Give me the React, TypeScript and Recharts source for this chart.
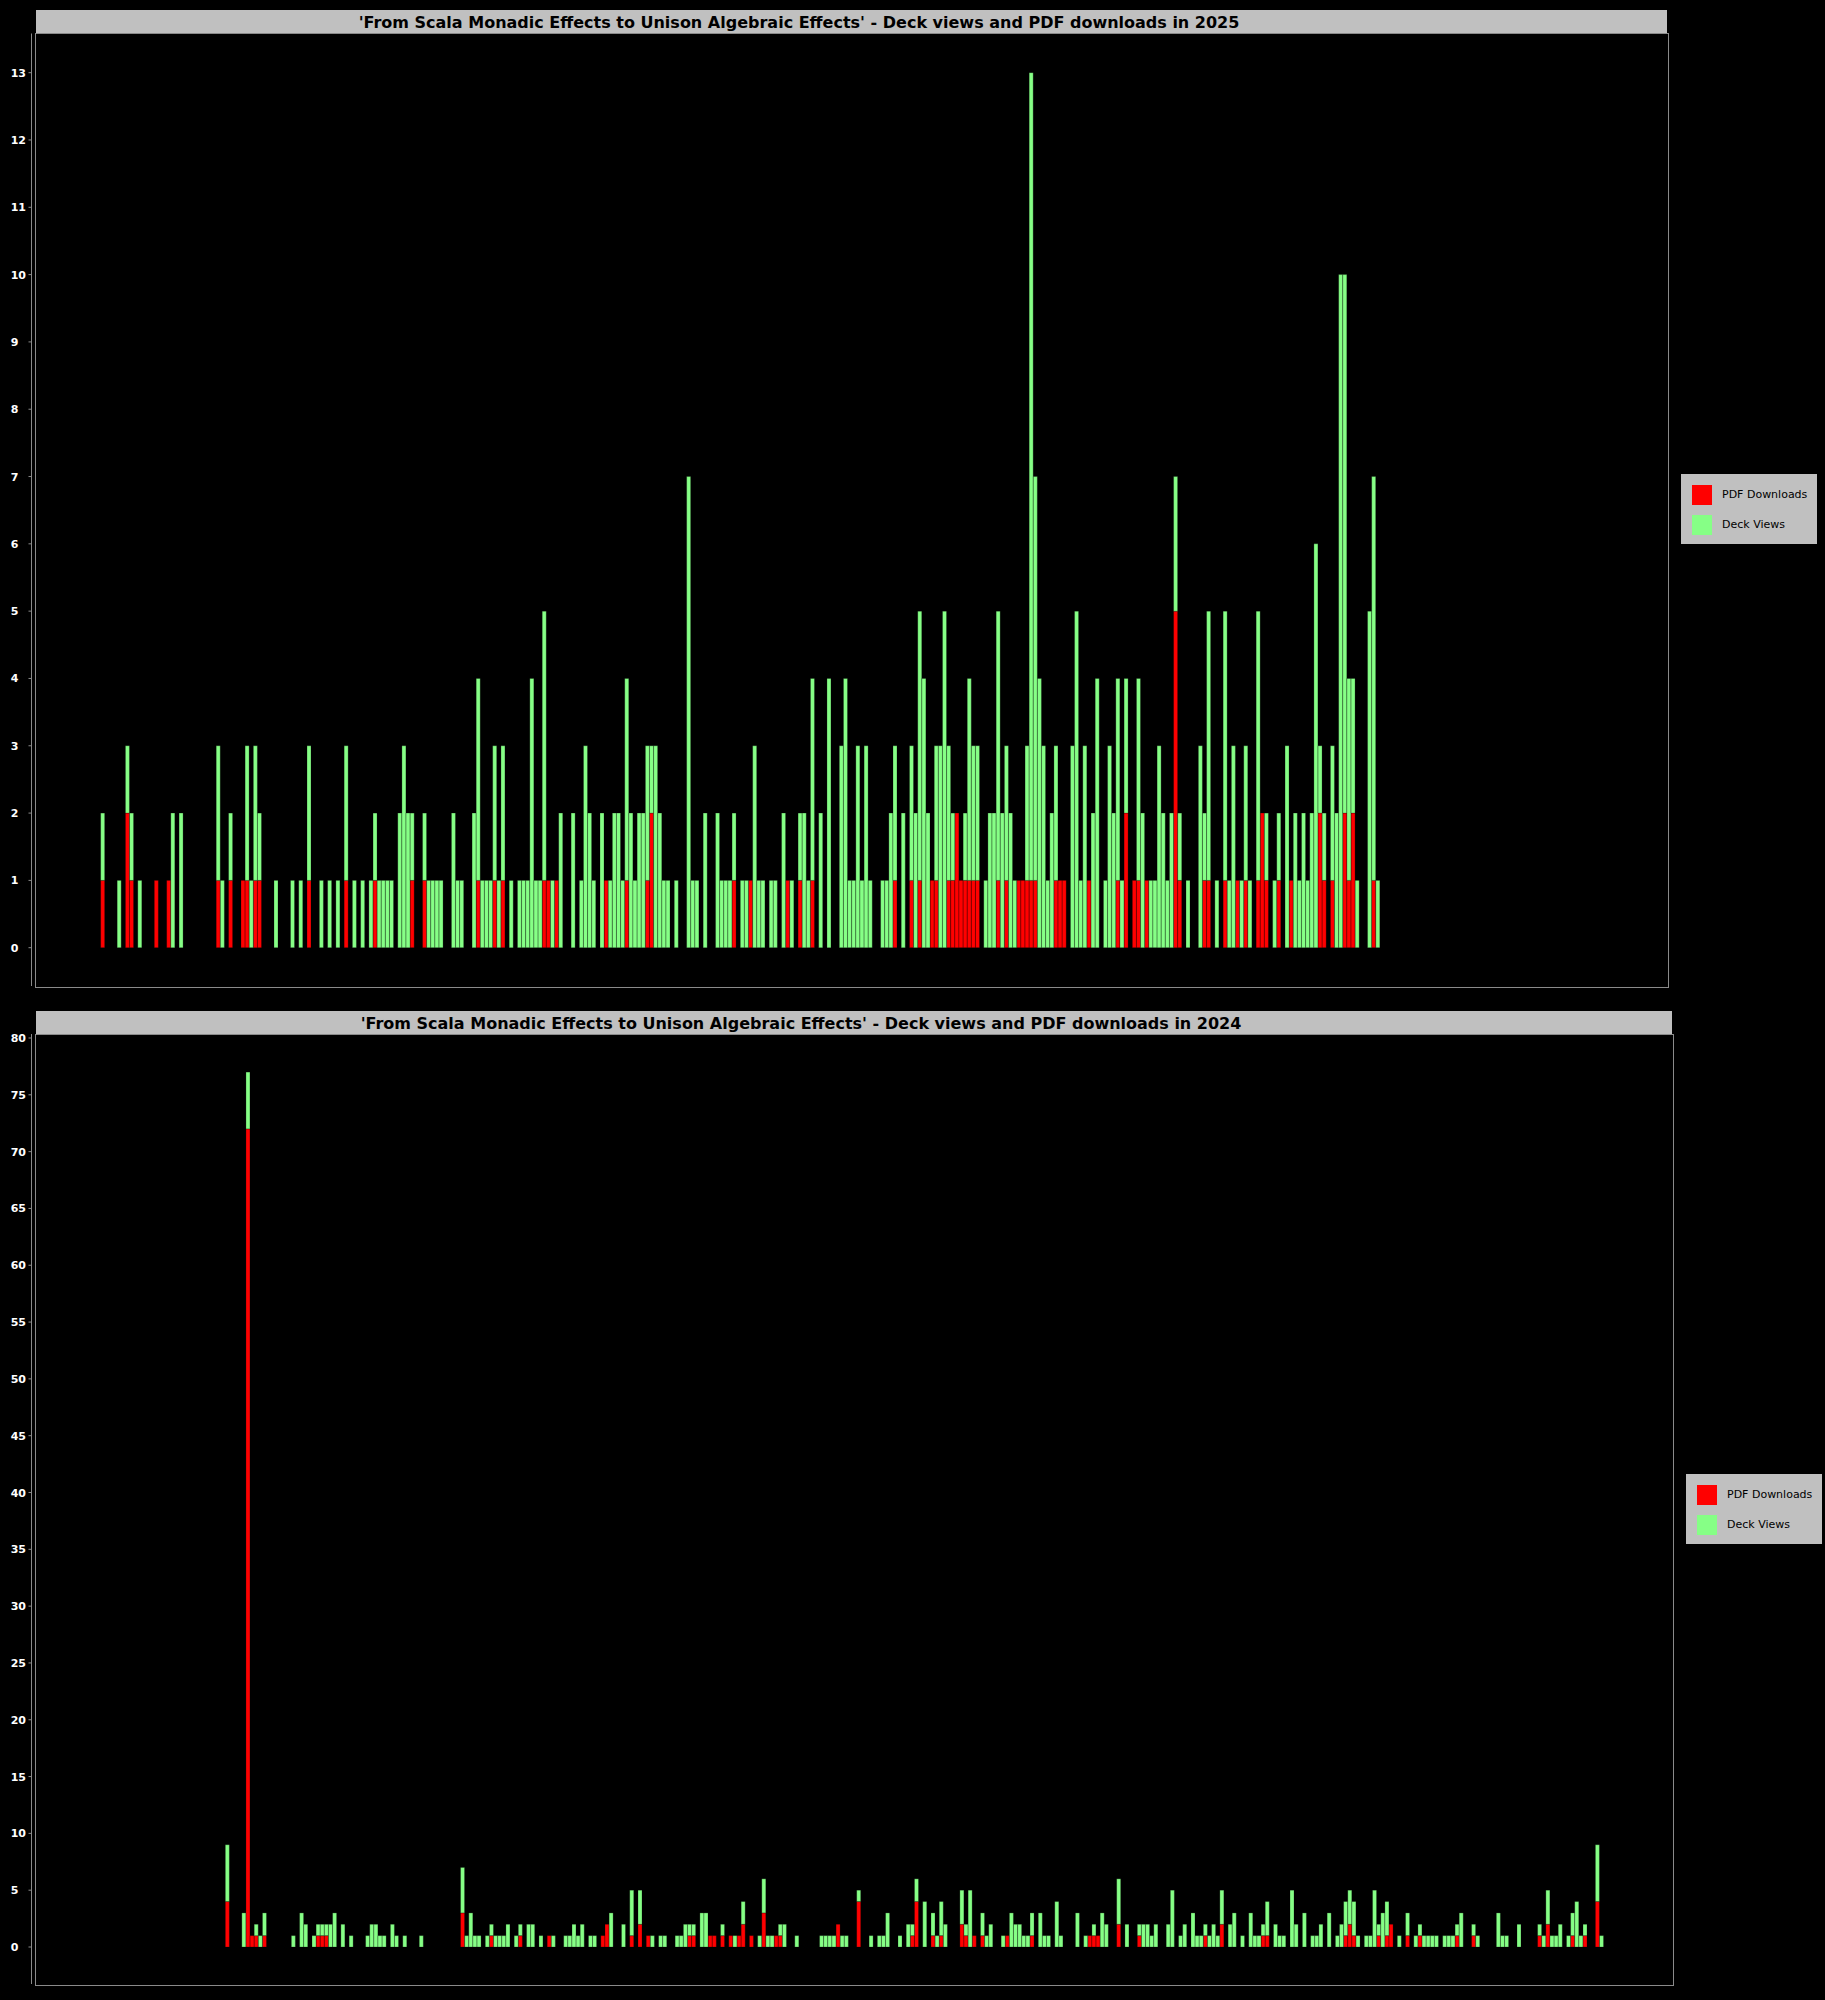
import React from 'react';
import { BarChart, Bar, XAxis, YAxis } from 'recharts';

// ---- 2025 data (one entry per day slot, first to last day shown) ----
const pdf2025 = [
  1,0,0,0,0,0,2,1,0,0, 0,0,0,1,0,0,1,0,0,0, 0,0,0,0,0,0,0,0,1,0, 0,1,0,0,1,1,0,1,1,0,
  0,0,0,0,0,0,0,0,0,0, 1,0,0,0,0,0,0,0,0,1, 0,0,0,0,0,0,1,0,0,0, 0,0,0,0,0,1,0,0,1,0,
  0,0,0,0,0,0,0,0,0,0, 0,1,0,0,0,1,0,1,0,0, 0,0,0,0,0,0,0,1,1,0, 1,0,0,0,0,0,0,0,0,0,
  0,0,1,0,0,0,0,1,0,0, 0,0,1,2,0,0,0,0,0,0, 0,0,0,0,0,0,0,0,0,0, 0,0,0,1,0,0,0,1,0,0,
  0,0,0,0,0,0,1,0,0,1, 0,0,1,0,0,0,0,0,0,0, 0,0,0,0,0,0,0,0,0,0, 0,0,1,0,0,0,1,0,1,0,
  0,1,1,0,0,1,1,2,1,1, 1,1,1,0,0,0,0,1,0,1, 0,0,1,1,1,1,1,0,0,0, 0,1,1,1,0,0,0,0,0,1,
  0,0,0,0,0,0,1,0,2,0, 1,1,0,1,0,0,0,0,0,0, 5,1,0,0,0,0,0,1,1,0, 0,0,1,0,0,1,0,1,0,0,
  1,2,1,0,0,1,0,0,1,0, 0,0,0,0,0,2,1,0,1,0, 0,2,1,2,0,0,0,0,1,0,
];
const views2025 = [
  1,0,0,0,1,0,1,1,0,1, 0,0,0,0,0,0,0,2,0,2, 0,0,0,0,0,0,0,0,2,1, 0,1,0,0,0,2,1,2,1,0,
  0,0,1,0,0,0,1,0,1,0, 2,0,0,1,0,1,0,1,0,2, 0,1,0,1,0,1,1,1,1,1, 1,0,2,3,2,1,0,0,1,1,
  1,1,1,0,0,2,1,1,0,0, 2,3,1,1,1,2,1,2,0,1, 0,1,1,1,4,1,1,4,0,1, 0,2,0,0,2,0,1,3,2,1,
  0,2,0,1,2,2,1,3,2,1, 2,2,2,1,3,2,1,1,0,1, 0,0,7,1,1,0,2,0,0,2, 1,1,1,1,0,1,1,0,3,1,
  1,0,1,1,0,2,0,1,0,1, 2,1,3,0,2,0,4,0,0,3, 4,1,1,3,1,3,1,0,0,1, 1,2,2,0,2,0,2,2,4,4,
  2,0,2,3,5,2,1,0,0,1, 3,2,2,0,1,2,2,4,2,2, 2,1,0,0,2,12,6,4,3,1, 2,2,0,0,0,3,5,1,3,0,
  2,4,0,1,3,2,3,1,2,0, 0,3,2,0,1,1,3,2,1,2, 2,1,0,1,0,0,3,1,4,0, 1,0,4,1,3,0,1,2,1,0,
  4,0,1,0,1,1,0,3,0,2, 1,2,1,2,6,1,1,0,2,2, 10,8,3,2,1,0,0,5,6,1,
];

// ---- 2024 data ----
const pdf2024 = [
  4,0,0,0,0,72,1,1,0,1, 0,0,0,0,0,0,0,0,0,0, 0,0,1,1,1,0,0,0,0,0, 0,0,0,0,0,0,0,0,0,0,
  0,0,0,0,0,0,0,0,0,0, 0,0,0,0,0,0,0,3,0,0, 0,0,0,0,1,0,0,0,0,0, 0,1,0,0,0,0,0,0,1,0,
  0,0,0,0,0,0,0,0,0,0, 0,1,2,0,0,0,0,0,1,0, 2,0,1,0,0,0,0,0,0,0, 0,0,1,1,0,0,0,1,1,0,
  1,0,1,0,1,2,0,1,0,0, 3,0,0,1,1,0,0,0,0,0, 0,0,0,0,0,0,0,0,2,0, 0,0,0,4,0,0,0,0,0,0,
  0,0,0,0,0,0,1,4,0,0, 0,1,0,1,0,0,0,0,2,1, 0,1,0,1,0,0,0,0,0,1, 0,0,0,0,0,1,0,0,0,0,
  0,0,0,0,0,0,0,0,0,1, 1,1,0,0,0,0,2,0,0,0, 0,1,0,0,0,0,0,0,0,0, 0,0,0,0,0,0,0,1,0,0,
  0,2,0,0,0,0,0,0,0,0, 0,1,1,0,0,0,0,0,0,0, 0,0,0,0,0,0,0,0,0,0, 0,1,2,1,0,0,0,0,0,1,
  0,1,2,0,0,0,1,0,0,1, 0,0,0,0,0,0,0,0,1,0, 0,0,1,0,0,0,0,0,0,0, 0,0,0,0,0,0,0,0,1,0,
  2,0,0,0,0,0,1,0,0,1, 0,0,4,0,
];
const views2024 = [
  5,0,0,0,3,5,0,1,1,2, 0,0,0,0,0,0,1,0,3,2, 0,1,1,1,1,2,3,0,2,0, 1,0,0,0,1,2,2,1,1,0,
  2,1,0,1,0,0,0,1,0,0, 0,0,0,0,0,0,0,4,1,3, 1,1,0,1,1,1,1,1,2,0, 1,1,0,2,2,0,1,0,0,1,
  0,0,1,1,2,1,2,0,1,1, 0,0,0,3,0,0,2,0,4,0, 3,0,0,1,0,1,1,0,0,1, 1,2,1,1,0,3,3,0,0,0,
  1,0,0,1,0,2,0,0,0,1, 3,1,1,0,1,2,0,0,1,0, 0,0,0,0,1,1,1,1,0,1, 1,0,0,1,0,0,1,0,1,1,
  3,0,0,1,0,2,1,2,0,4, 0,2,1,3,2,0,0,0,3,1, 5,0,0,2,1,2,0,0,1,0, 3,2,2,1,1,2,0,3,1,1,
  0,4,1,0,0,0,3,0,1,0, 1,0,3,2,0,0,4,0,2,0, 0,1,2,2,1,2,0,0,2,5, 0,1,2,0,3,1,1,1,1,2,
  1,3,0,2,3,0,1,0,3,1, 1,1,3,0,2,1,1,0,5,2, 0,3,0,1,1,2,0,3,0,1, 2,3,3,3,1,0,1,1,5,1,
  3,3,0,0,1,0,2,0,1,1, 1,1,1,1,0,1,1,1,1,3, 0,0,1,1,0,0,0,0,3,1, 1,0,0,2,0,0,0,0,1,1,
  3,1,1,2,0,1,2,4,1,1, 0,0,5,1,
];

const ticks2025 = [0, 1, 2, 3, 4, 5, 6, 7, 8, 9, 10, 11, 12, 13];
const ticks2024 = [0, 5, 10, 15, 20, 25, 30, 35, 40, 45, 50, 55, 60, 65, 70, 75, 80];

const title2025 = "'From Scala Monadic Effects to Unison Algebraic Effects' - Deck views and PDF downloads in 2025";
const title2024 = "'From Scala Monadic Effects to Unison Algebraic Effects' - Deck views and PDF downloads in 2024";
const seriesNames = ['PDF Downloads', 'Deck Views'];

const RED = '#ff0000';
const GREEN = '#86ff86';
const GRAY = '#8a8a8a';

function buildData(pdf: number[], views: number[]) {
  return pdf.map((p, i) => ({ day: i, pdf: p, views: views[i] }));
}

const LeftTick = (props: any) => {
  const { y, payload } = props;
  return (
    <text x={10.7} y={y} dy={4} fill="#ffffff" fontSize={11} fontWeight="bold"
      fontFamily="DejaVu Sans" textAnchor="start">{payload.value}</text>
  );
};

type PanelProps = {
  top: number;
  data: any[];
  title: string;
  titleCenter: number;
  plotTop: number;
  plotBottom: number;
  plotRight: number;
  padL: number;
  padR: number;
  domain: [number, number];
  ticks: number[];
  legendLeft: number;
  legendTop: number;
};

const AXIS_X = 31.5;
const BORDER_X = 35.5;

function Panel(p: PanelProps) {
  const H = 1000;
  return (
    <div style={{ position: 'absolute', left: 0, top: p.top, width: 1825, height: H }}>
      <div style={{
        position: 'absolute', left: BORDER_X, top: p.plotTop - 23.5, width: p.plotRight - BORDER_X,
        height: 23, background: '#c0c0c0',
      }} />
      <div style={{
        position: 'absolute', left: p.titleCenter - 700, width: 1400, top: p.plotTop - 22.5, height: 23,
        lineHeight: '23px', textAlign: 'center', fontFamily: 'DejaVu Sans', fontWeight: 'bold',
        fontSize: 16, color: '#000', whiteSpace: 'nowrap',
      }}>{p.title}</div>
      <div style={{ position: 'absolute', left: 0, top: 0 }}>
        <BarChart width={1825} height={H} data={p.data} barCategoryGap={0} barGap={0}
          margin={{ top: p.plotTop, right: 1825 - p.plotRight, bottom: H - p.plotBottom, left: 0 }}>
          <XAxis dataKey="day" hide padding={{ left: p.padL, right: p.padR }} />
          <YAxis width={AXIS_X} domain={p.domain} allowDataOverflow ticks={p.ticks} interval={0}
            tick={(tp: any) => <LeftTick {...tp} />} tickSize={3}
            tickLine={{ stroke: GRAY }} axisLine={{ stroke: GRAY }} />
          <Bar dataKey="pdf" name={seriesNames[0]} stackId="s" fill={RED} stroke="rgba(0,0,0,0.3)"
            strokeWidth={0.8} isAnimationActive={false} />
          <Bar dataKey="views" name={seriesNames[1]} stackId="s" fill={GREEN} stroke="rgba(0,0,0,0.3)"
            strokeWidth={0.8} isAnimationActive={false} />
        </BarChart>
      </div>
      <div style={{
        position: 'absolute', left: BORDER_X - 0.5, top: p.plotTop - 0.5, width: p.plotRight - BORDER_X,
        height: p.plotBottom - p.plotTop, border: `1px solid ${GRAY}`, pointerEvents: 'none',
      }} />
      <div style={{
        position: 'absolute', left: p.legendLeft, top: p.legendTop - p.top, width: 136, height: 70,
        background: '#c0c0c0', fontFamily: 'DejaVu Sans', fontSize: 11, color: '#000',
      }}>
        {seriesNames.map((n, i) => (
          <div key={n} style={{ position: 'absolute', left: 0, top: 11 + i * 30, height: 20, width: 136 }}>
            <div style={{ position: 'absolute', left: 10.7, top: 0, width: 20, height: 20, background: i === 0 ? RED : GREEN }} />
            <div style={{ position: 'absolute', left: 41, top: 0, lineHeight: '20px', whiteSpace: 'nowrap' }}>{n}</div>
          </div>
        ))}
      </div>
    </div>
  );
}

export default function App() {
  const d2025 = buildData(pdf2025, views2025);
  const d2024 = buildData(pdf2024, views2024);
  return (
    <div style={{ position: 'absolute', left: 0, top: 0, width: 1825, height: 2000, background: '#000', overflow: 'hidden' }}>
      <Panel top={0} data={d2025} title={title2025} titleCenter={799}
        plotTop={33.5} plotBottom={986} plotRight={1667}
        padL={100.67 - AXIS_X} padR={1667 - (100.67 + 310 * 4.1267)}
        domain={[-0.569, 13.582]} ticks={ticks2025} legendLeft={1681} legendTop={474} />
      <Panel top={1000} data={d2024} title={title2024} titleCenter={801}
        plotTop={34} plotBottom={984} plotRight={1672}
        padL={225.33 - AXIS_X} padR={1672 - (225.33 + 334 * 4.1267)}
        domain={[-3.256, 80.352]} ticks={ticks2024} legendLeft={1686} legendTop={1474} />
    </div>
  );
}
